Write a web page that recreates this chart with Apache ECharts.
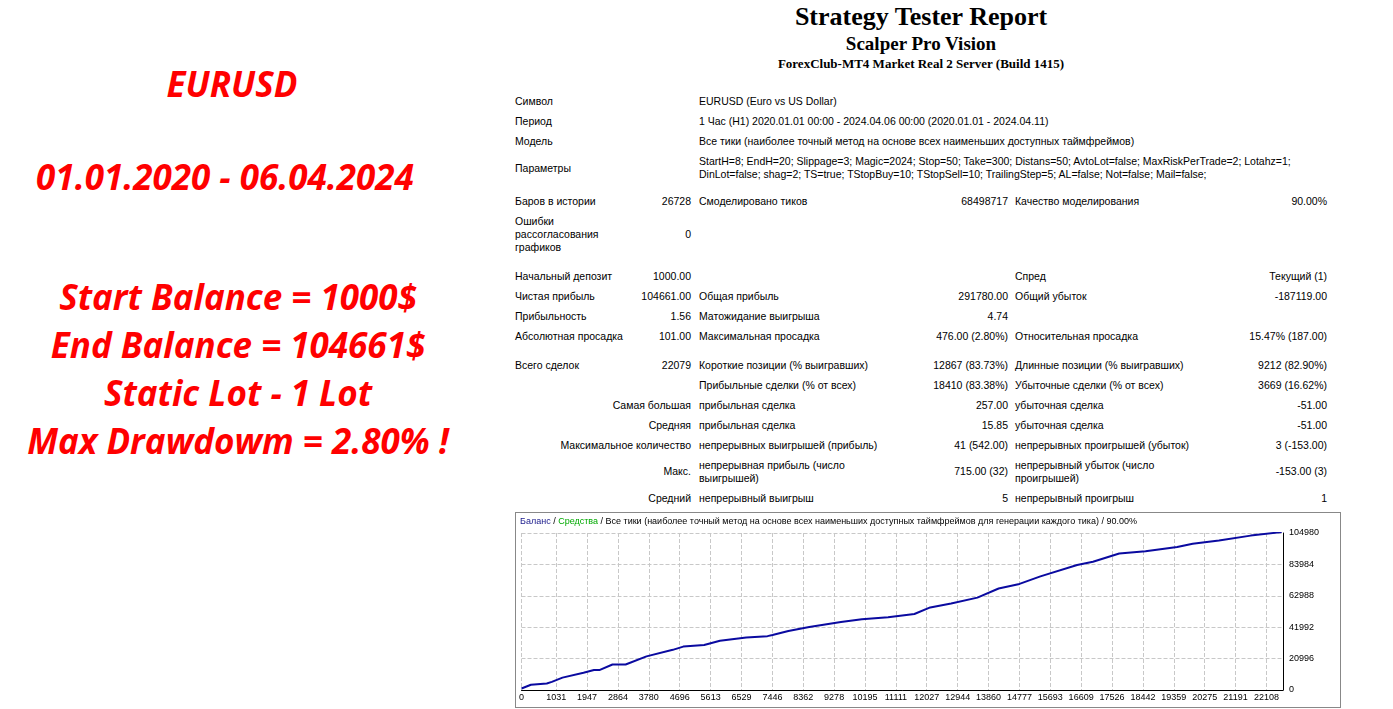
<!DOCTYPE html>
<html><head><meta charset="utf-8">
<script src="https://cdn.jsdelivr.net/npm/echarts@6/dist/echarts.min.js"></script>
<style>
body{margin:0;width:1393px;height:709px;background:#fff;position:relative;overflow:hidden;font-family:"Liberation Sans",Arial,sans-serif}
.t{position:absolute;font-size:10.5px;color:#000;white-space:nowrap;line-height:13px}
.big{position:absolute;color:#f00;font-family:"Open Sans","Noto Sans",sans-serif;font-weight:bold;font-style:italic;font-size:35px;white-space:nowrap;text-align:center;width:480px;left:-2px}
.h{position:absolute;font-family:"Liberation Serif",serif;font-weight:bold;text-align:center;width:900px;left:471px;white-space:nowrap}
#c{position:absolute;left:515px;top:512px;width:826px;height:196px;border:1px solid #888;box-sizing:border-box}
</style></head><body>
<div class="big" style="top:60px;left:-8px">EURUSD</div>
<div class="big" style="top:153px;left:-15px">01.01.2020 - 06.04.2024</div>
<div class="big" style="top:273px">Start Balance = 1000$</div>
<div class="big" style="top:321px">End Balance = 104661$</div>
<div class="big" style="top:369px">Static Lot - 1 Lot</div>
<div class="big" style="top:417px">Max Drawdowm = 2.80% !</div>
<div class="h" style="top:2px;font-size:26px">Strategy Tester Report</div>
<div class="h" style="top:33px;font-size:19px">Scalper Pro Vision</div>
<div class="h" style="top:56px;font-size:13px">ForexClub-MT4 Market Real 2 Server (Build 1415)</div>
<div id="tbl"></div>
<div id="c"></div>
<script>
const cells = [
["Символ",515,101],["EURUSD (Euro vs US Dollar)",699,101],
["Период",515,121],["1 Час (H1) 2020.01.01 00:00 - 2024.04.06 00:00 (2020.01.01 - 2024.04.11)",699,121],
["Модель",515,141],["Все тики (наиболее точный метод на основе всех наименьших доступных таймфреймов)",699,141],
["Параметры",515,168],["StartH=8; EndH=20; Slippage=3; Magic=2024; Stop=50; Take=300; Distans=50; AvtoLot=false; MaxRiskPerTrade=2; Lotahz=1;",699,161],
["DinLot=false; shag=2; TS=true; TStopBuy=10; TStopSell=10; TrailingStep=5; AL=false; Not=false; Mail=false;",699,174],
["Баров в истории",515,201],["26728",691,201,"r"],["Смоделировано тиков",699,201],["68498717",1008,201,"r"],["Качество моделирования",1015,201],["90.00%",1327,201,"r"],
["Ошибки",515,221],["рассогласования",515,234],["графиков",515,247],["0",691,234,"r"],
["Начальный депозит",515,276],["1000.00",691,276,"r"],["Спред",1015,276],["Текущий (1)",1327,276,"r"],
["Чистая прибыль",515,296],["104661.00",691,296,"r"],["Общая прибыль",699,296],["291780.00",1008,296,"r"],["Общий убыток",1015,296],["-187119.00",1327,296,"r"],
["Прибыльность",515,316],["1.56",691,316,"r"],["Матожидание выигрыша",699,316],["4.74",1008,316,"r"],
["Абсолютная просадка",515,336],["101.00",691,336,"r"],["Максимальная просадка",699,336],["476.00 (2.80%)",1008,336,"r"],["Относительная просадка",1015,336],["15.47% (187.00)",1327,336,"r"],
["Всего сделок",515,365],["22079",691,365,"r"],["Короткие позиции (% выигравших)",699,365],["12867 (83.73%)",1008,365,"r"],["Длинные позиции (% выигравших)",1015,365],["9212 (82.90%)",1327,365,"r"],
["Прибыльные сделки (% от всех)",699,385],["18410 (83.38%)",1008,385,"r"],["Убыточные сделки (% от всех)",1015,385],["3669 (16.62%)",1327,385,"r"],
["Самая большая",691,405,"r"],["прибыльная сделка",699,405],["257.00",1008,405,"r"],["убыточная сделка",1015,405],["-51.00",1327,405,"r"],
["Средняя",691,425,"r"],["прибыльная сделка",699,425],["15.85",1008,425,"r"],["убыточная сделка",1015,425],["-51.00",1327,425,"r"],
["Максимальное количество",691,445,"r"],["непрерывных выигрышей (прибыль)",699,445],["41 (542.00)",1008,445,"r"],["непрерывных проигрышей (убыток)",1015,445],["3 (-153.00)",1327,445,"r"],
["Макс.",691,471,"r"],["непрерывная прибыль (число",699,465],["выигрышей)",699,478],["715.00 (32)",1008,471,"r"],["непрерывный убыток (число",1015,465],["проигрышей)",1015,478],["-153.00 (3)",1327,471,"r"],
["Средний",691,498,"r"],["непрерывный выигрыш",699,498],["5",1008,498,"r"],["непрерывный проигрыш",1015,498],["1",1327,498,"r"]
];
const tbl=document.getElementById('tbl');
cells.forEach(([s,x,y,a])=>{const d=document.createElement('div');d.className='t';d.textContent=s;d.style.top=(y-6)+'px';
 if(a==='r'){d.style.right=(1393-x)+'px';}else d.style.left=x+'px';tbl.appendChild(d);});

const xTickLabels=[0,1031,1947,2864,3780,4696,5613,6529,7446,8362,9278,10195,11111,12027,12944,13860,14777,15693,16609,17526,18442,19359,20275,21191,22108];
const tradeIdx=[0,280,750,900,1216,1840,2150,2310,2700,3090,3710,4490,4800,5420,5890,6670,7300,7450,7920,8540,9480,10100,10880,11660,12130,12750,13530,14160,14780,15400,16490,16960,17740,18520,19460,19920,20700,21640,22560];
const balance=[1000,3490,4365,5460,8290,11570,13310,13310,17020,17020,22480,26850,29030,30120,32960,35140,36010,36800,39500,42120,45400,47360,48670,50850,55220,57840,61770,67880,70930,75950,83590,85770,91230,92760,95600,97780,99960,103230,105600];

const ch=echarts.init(document.getElementById('c'));
ch.setOption({
 animation:false,
 grid:{left:1,right:57,top:20,bottom:17},
 graphic:[{type:'text',left:4,top:4,style:{text:'{b|Баланс} / {g|Средства} / Все тики (наиболее точный метод на основе всех наименьших доступных таймфреймов для генерации каждого тика) / 90.00%',
  font:'9px "Liberation Sans"',fill:'#000',rich:{b:{fill:'#1a1a8c',font:'9px "Liberation Sans"'},g:{fill:'#0a0',font:'9px "Liberation Sans"'}}}}],
 xAxis:{type:'value',min:0,max:22600,
  axisLine:{onZero:false,lineStyle:{color:'#000'}},
  axisTick:{show:false,customValues:xTickLabels},
  axisLabel:{customValues:xTickLabels,color:'#000',fontSize:9,margin:3,formatter:v=>String(v)},
  splitLine:{show:true,lineStyle:{type:'dashed',color:'#c8c8c8'}}},
 yAxis:{type:'value',position:'right',min:0,max:104980,interval:20996,
  axisLine:{show:true,onZero:false,lineStyle:{color:'#000'}},axisTick:{show:false},
  axisLabel:{color:'#000',fontSize:9,margin:6,formatter:v=>String(v)},
  splitLine:{lineStyle:{type:'dashed',color:'#c8c8c8'}}},
 series:[{type:'line',data:tradeIdx.map((v,i)=>[v,balance[i]]),symbol:'none',lineStyle:{color:'#0a0aa0',width:2}}]
});
</script>
</body></html>
